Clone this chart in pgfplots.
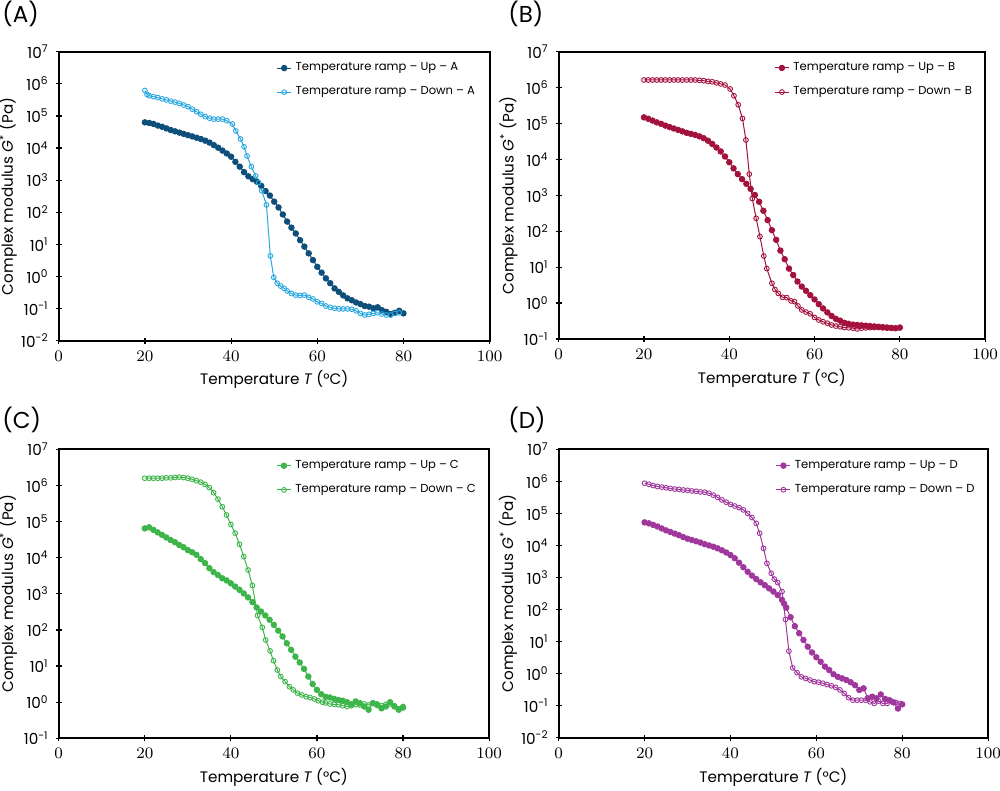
\documentclass[border=0pt]{standalone}
\usepackage{pgfplots}
\pgfplotsset{compat=1.18}
\usepackage{pgfplotstable}
\usepackage{fontspec}
\setmainfont{Poppins}

\definecolor{aup}{HTML}{0D4F7A}
\definecolor{adn}{HTML}{2AA7DF}
\definecolor{bcol}{HTML}{A3123C}
\definecolor{ccol}{HTML}{3DB54A}
\definecolor{dcol}{HTML}{A0379D}

% values: temperature (C), log10 of G* (Pa)
\pgfplotstableread{
x y
20 4.80
21 4.78
22 4.75
23 4.70
24 4.66
25 4.61
26 4.56
27 4.52
28 4.48
29 4.44
30 4.40
31 4.36
32 4.32
33 4.28
34 4.23
35 4.17
36 4.09
37 4.01
38 3.92
39 3.83
40 3.73
41 3.57
42 3.42
43 3.25
44 3.12
45 3.03
46 2.95
47 2.82
48 2.66
49 2.52
50 2.33
51 2.15
52 1.93
53 1.71
54 1.52
55 1.34
56 1.13
57 0.93
58 0.72
59 0.51
60 0.30
61 0.12
62 -0.06
63 -0.21
64 -0.37
65 -0.48
66 -0.59
67 -0.68
68 -0.74
69 -0.81
70 -0.86
71 -0.92
72 -0.94
73 -0.99
74 -0.96
75 -1.05
76 -1.10
77 -1.17
78 -1.13
79 -1.07
80 -1.15
}\upA
\pgfplotstableread{
x y
20 5.79
20.5 5.67
21 5.63
22 5.60
23 5.57
24 5.53
25 5.50
26 5.46
27 5.43
28 5.39
29 5.34
30 5.29
31 5.21
32 5.13
33 5.05
34 4.98
35 4.93
36 4.90
37 4.90
38 4.90
39 4.85
40.3 4.75
41.1 4.53
42.2 4.28
43.0 4.04
43.7 3.75
44.7 3.42
45.7 3.13
46.4 2.92
47.1 2.67
48.2 2.23
49.1 0.64
49.9 -0.03
50.7 -0.21
51.5 -0.30
52.3 -0.37
53 -0.45
54 -0.53
55 -0.58
56 -0.59
57 -0.58
58 -0.65
59 -0.70
60 -0.79
61 -0.84
62 -0.92
63 -0.96
64 -0.99
65 -1.01
66 -1.01
67 -1.01
68 -1.02
69 -1.07
70 -1.15
71 -1.20
72 -1.18
73 -1.15
74 -1.13
75 -1.17
76 -1.20
77 -1.20
78 -1.15
79 -1.13
}\dnA
\pgfplotstableread{
x y
20 5.17
21 5.13
22 5.08
23 5.03
24 4.99
25 4.94
26 4.90
27 4.86
28 4.82
29 4.78
30 4.74
31 4.71
32 4.68
33 4.64
34 4.59
35 4.52
36 4.43
37 4.33
38 4.22
39 4.08
40 3.92
41 3.75
42 3.59
43 3.45
44 3.32
45 3.18
46 3.01
47 2.82
48 2.57
49 2.31
50 2.03
51 1.76
52 1.46
53 1.22
54 0.96
55 0.78
56 0.60
57 0.46
58 0.34
59 0.22
60 0.10
61 -0.03
62 -0.15
63 -0.26
64 -0.36
65 -0.44
66 -0.49
67 -0.55
68 -0.58
69 -0.60
70 -0.61
71 -0.62
72 -0.63
73 -0.64
74 -0.65
75 -0.66
76 -0.67
77 -0.68
78 -0.69
79 -0.70
80 -0.68
}\upB
\pgfplotstableread{
x y
20 6.21
21 6.21
22 6.21
23 6.21
24 6.21
25 6.21
26 6.21
27 6.21
28 6.21
29 6.21
30 6.21
31 6.21
32 6.21
33 6.20
34 6.19
35 6.17
36 6.16
37 6.13
38 6.10
39 6.07
40.2 5.96
41.1 5.77
42.1 5.52
43.1 5.14
43.9 4.54
44.7 3.59
45.4 2.91
46.3 2.36
47.2 1.85
48.1 1.31
48.8 0.96
50.0 0.55
50.7 0.38
51.5 0.27
52.5 0.16
53.5 0.15
54.5 0.06
55.3 0.04
56.1 -0.08
57.0 -0.19
58 -0.25
59 -0.30
60 -0.40
61 -0.47
62 -0.52
63 -0.56
64 -0.61
65 -0.64
66 -0.66
67 -0.68
68 -0.69
69 -0.70
70 -0.72
71 -0.70
72 -0.69
73 -0.68
74 -0.68
75 -0.68
76 -0.69
77 -0.70
78 -0.70
79 -0.70
80 -0.69
}\dnB
\pgfplotstableread{
x y
20 4.81
21 4.84
22 4.77
23 4.70
24 4.63
25 4.56
26 4.49
27 4.43
28 4.35
29 4.29
30 4.21
31 4.15
32 4.08
33 3.96
34 3.85
35 3.71
36 3.60
37 3.52
38 3.43
39 3.37
40 3.29
41 3.20
42 3.11
43 3.01
44 2.90
45 2.77
46 2.62
47 2.51
48 2.40
49 2.28
50 2.14
51 1.98
52 1.82
53 1.63
54 1.45
55 1.26
56 1.10
57 0.92
58 0.71
59 0.50
60 0.34
61 0.22
62 0.15
63 0.13
64 0.09
65 0.06
66 0.04
67 0.00
68 -0.06
69 0.02
70 -0.03
71 -0.12
72 -0.21
73 -0.03
74 -0.08
75 -0.17
76 -0.12
77 0.00
78 -0.12
79 -0.21
80 -0.15
}\upC
\pgfplotstableread{
x y
20 6.20
21 6.20
22 6.20
23 6.20
24 6.20
25 6.21
26 6.21
27 6.22
28 6.23
29 6.22
30 6.20
31 6.17
32 6.13
33 6.09
34 6.03
35 5.94
36 5.80
37 5.62
38 5.41
39 5.18
40 4.92
41 4.68
42 4.37
43 4.03
44 3.66
45 3.23
46.2 2.40
47.3 2.07
48.1 1.72
49.1 1.42
49.9 1.15
50.8 0.89
51.6 0.71
52.6 0.57
53.6 0.43
54.5 0.34
55.5 0.25
56.5 0.20
57.5 0.15
58.4 0.13
59.4 0.09
60.3 0.04
61.3 0.00
62 -0.02
63 -0.05
64 -0.06
65 -0.07
66 -0.10
67 -0.12
68 -0.10
69 -0.07
70 -0.08
71 -0.05
72 -0.08
73 -0.02
74 -0.05
75 -0.10
76 -0.06
77 -0.05
78 -0.10
79 -0.18
80 -0.12
}\dnC
\pgfplotstableread{
x y
20 4.72
21 4.69
22 4.64
23 4.59
24 4.53
25 4.47
26 4.42
27 4.37
28 4.32
29 4.26
30 4.21
31 4.17
32 4.13
33 4.09
34 4.04
35 4.00
36 3.96
37 3.91
38 3.85
39 3.78
40 3.70
41 3.60
42 3.46
43 3.32
44 3.18
45 3.06
46 2.95
47 2.85
48 2.76
49 2.66
50 2.56
51 2.45
52 2.30
52.5 2.18
53 2.06
54 1.76
55 1.48
56 1.26
57 1.05
58 0.84
59 0.66
60 0.51
61 0.37
62 0.22
63 0.11
64 -0.02
65 -0.10
66 -0.15
67 -0.20
68 -0.27
69 -0.36
70 -0.51
71 -0.46
72 -0.77
73 -0.72
74 -0.77
75 -0.65
76 -0.79
77 -0.83
78 -0.90
79 -1.09
80 -0.96
}\upD
\pgfplotstableread{
x y
20 5.94
21 5.91
22 5.87
23 5.84
24 5.82
25 5.80
26 5.78
27 5.76
28 5.75
29 5.73
30 5.72
31 5.70
32 5.69
33 5.67
34 5.66
35 5.63
36 5.57
37 5.50
38 5.42
39 5.35
40 5.28
41 5.23
42 5.18
43 5.11
44 5.00
45 4.87
46 4.69
46.8 4.38
47.7 3.91
48.5 3.44
49.5 3.13
50.2 2.95
51 2.84
52 2.56
52.8 1.69
53.6 0.70
54.5 0.18
55.5 0.03
56.5 -0.10
57.5 -0.15
58.5 -0.20
59.5 -0.25
60.5 -0.27
61.5 -0.30
62.5 -0.34
63.5 -0.38
64.5 -0.43
65.5 -0.51
66.5 -0.62
67.5 -0.75
68.5 -0.83
69.5 -0.83
70.5 -0.83
71.5 -0.83
72.5 -0.88
73.5 -0.93
74.5 -0.86
75.5 -0.93
76.5 -0.93
77.5 -0.86
78.5 -0.90
79.5 -0.93
}\dnD

\newcommand{\fs}{\fontsize{7.6}{9}\selectfont}
\newcommand{\fl}{\fontsize{5.8}{7}\selectfont}

\pgfplotsset{
  panel/.style={
    scale only axis,
    xmin=0, xmax=100, xtick={0,20,...,100},
    xtick pos=bottom, ytick pos=left,
    tick align=center, major tick length=3pt,
    tick style={black, line width=0.6pt},
    axis line style={black, line width=1pt},
    ticklabel style={font=\fs},
    label style={font=\fs},
    xlabel={Temperature \textit{T} (°C)},
    ylabel={Complex modulus \textit{G}\textsuperscript{*} (Pa)},
    xlabel style={yshift=2pt},
    ylabel style={at={(axis description cs:-0.118,0.5)}, anchor=center},
    legend style={draw=none, fill=none, at={(0.5,0.985)}, anchor=north west,
      font=\fl, row sep=2.5pt, inner sep=1pt, line width=0.5pt},
    legend cell align=left,
    legend image code/.code={\draw[mark repeat=2,mark phase=2] plot coordinates {(0pt,0pt) (3.5pt,0pt) (7pt,0pt)};},
    after end axis/.code={\draw[black, line width=1pt, line cap=rect] (rel axis cs:0,0) -- (rel axis cs:0,1) -- (rel axis cs:1,1) -- (rel axis cs:1,0) -- cycle;},
  },
  ytwo/.style={ymin=-2, ymax=7, ytick={-2,...,7},
    yticklabels={10\textsuperscript{-2},10\textsuperscript{-1},10\textsuperscript{0},10\textsuperscript{1},10\textsuperscript{2},10\textsuperscript{3},10\textsuperscript{4},10\textsuperscript{5},10\textsuperscript{6},10\textsuperscript{7}}},
  yone/.style={ymin=-1, ymax=7, ytick={-1,...,7},
    yticklabels={10\textsuperscript{-1},10\textsuperscript{0},10\textsuperscript{1},10\textsuperscript{2},10\textsuperscript{3},10\textsuperscript{4},10\textsuperscript{5},10\textsuperscript{6},10\textsuperscript{7}}},
  upst/.style={color=#1, line width=0.5pt, mark=*, mark size=1.35pt, mark options={fill=#1, draw=#1}},
  dnst/.style={color=#1, line width=0.5pt, mark=o, mark size=1.2pt, mark options={draw=#1, line width=0.45pt}},
}

\begin{document}
\begin{tikzpicture}
\useasboundingbox (0,0) rectangle (500pt,395.5pt);

\begin{axis}[panel, ytwo, at={(29.35pt,225.15pt)}, anchor=south west, width=215.5pt, height=144.5pt]
\addplot[upst=aup] table[x=x,y=y] {\upA};
\addlegendentry{Temperature ramp – Up – A}
\addplot[dnst=adn] table[x=x,y=y] {\dnA};
\addlegendentry{Temperature ramp – Down – A}
\end{axis}

\begin{axis}[panel, yone, at={(279.35pt,226pt)}, anchor=south west, width=213.2pt, height=143.7pt]
\addplot[upst=bcol] table[x=x,y=y] {\upB};
\addlegendentry{Temperature ramp – Up – B}
\addplot[dnst=bcol] table[x=x,y=y] {\dnB};
\addlegendentry{Temperature ramp – Down – B}
\end{axis}

\begin{axis}[panel, yone, at={(29.35pt,26.35pt)}, anchor=south west, width=215.2pt, height=144.5pt]
\addplot[upst=ccol] table[x=x,y=y] {\upC};
\addlegendentry{Temperature ramp – Up – C}
\addplot[dnst=ccol] table[x=x,y=y] {\dnC};
\addlegendentry{Temperature ramp – Down – C}
\end{axis}

\begin{axis}[panel, ytwo, at={(279.35pt,26.65pt)}, anchor=south west, width=214.7pt, height=144.2pt]
\addplot[upst=dcol] table[x=x,y=y] {\upD};
\addlegendentry{Temperature ramp – Up – D}
\addplot[dnst=dcol] table[x=x,y=y] {\dnD};
\addlegendentry{Temperature ramp – Down – D}
\end{axis}

\node[anchor=west, font=\fontsize{11.5}{13}\selectfont, inner sep=0pt] at (1pt,388.5pt) {(A)};
\node[anchor=west, font=\fontsize{11.5}{13}\selectfont, inner sep=0pt] at (254pt,388.5pt) {(B)};
\node[anchor=west, font=\fontsize{11.5}{13}\selectfont, inner sep=0pt] at (1pt,185.5pt) {(C)};
\node[anchor=west, font=\fontsize{11.5}{13}\selectfont, inner sep=0pt] at (254pt,185.5pt) {(D)};
\end{tikzpicture}
\end{document}
